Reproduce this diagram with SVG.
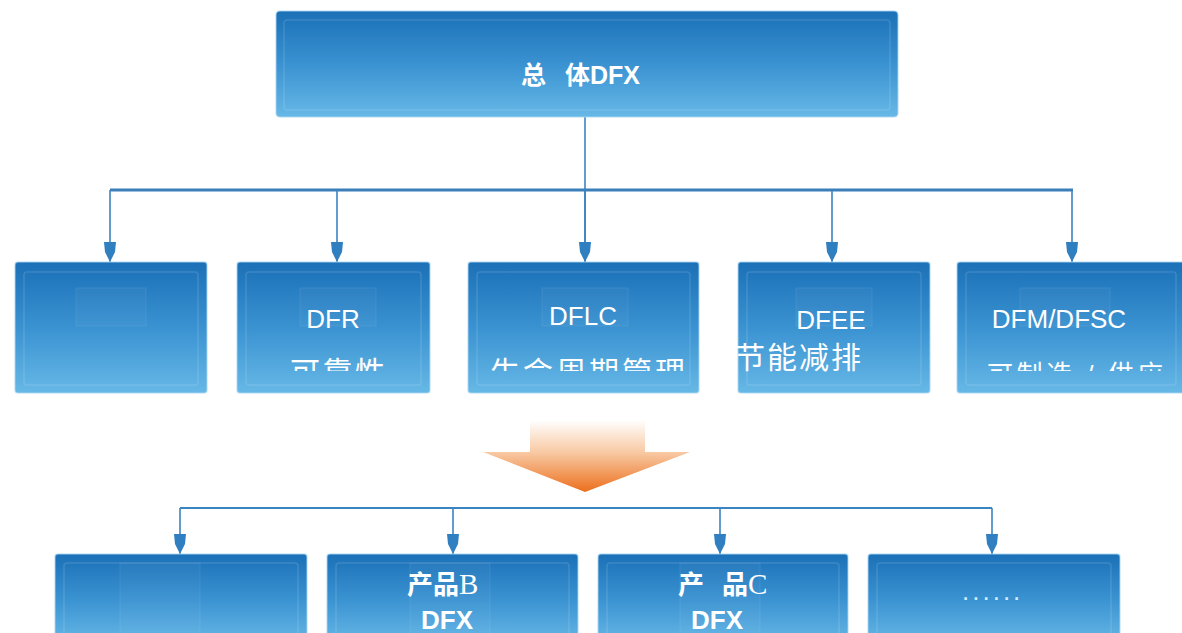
<svg xmlns="http://www.w3.org/2000/svg" width="1182" height="633" viewBox="0 0 1182 633">
<style>
.box{fill:url(#bg);stroke:#a9d6f2;stroke-width:1.5;stroke-opacity:0.6}
.inner{fill:none;stroke:#ffffff;stroke-opacity:0.12;stroke-width:1.5}
.tab{fill:#ffffff;fill-opacity:0.03;stroke:#ffffff;stroke-opacity:0.08}
.lat{font-family:"Liberation Sans",Arial,sans-serif;fill:#ffffff;font-size:26px}
.cjk{font-family:"Liberation Sans","Noto Sans CJK SC",sans-serif;fill:#ffffff}
.bold{font-weight:bold}
.ser{font-family:"Liberation Serif","Noto Sans CJK SC",serif}
.conn{fill:none;stroke:#3a84c2;stroke-width:1.6}
.bar{fill:none;stroke:#3a7fb9;stroke-width:3}
</style>
<defs>
<linearGradient id="bg" x1="0" y1="0" x2="0" y2="1">
<stop offset="0" stop-color="#1b70b7"/>
<stop offset="0.5" stop-color="#3a92d1"/>
<stop offset="1" stop-color="#66b8e6"/>
</linearGradient>
<linearGradient id="og" x1="0" y1="0" x2="0" y2="1">
<stop offset="0" stop-color="#ffffff"/>
<stop offset="0.45" stop-color="#f8c9a3"/>
<stop offset="1" stop-color="#ec6f1d"/>
</linearGradient>
<marker id="ah" viewBox="0 0 20 12" refX="20" refY="6" markerWidth="20" markerHeight="12" markerUnits="userSpaceOnUse" orient="auto">
<path d="M0,0 L10,1 L20,6 L10,11 L0,12 Z" fill="#2f7fc1"/>
</marker>
<clipPath id="cl"><rect x="0" y="0" width="1182" height="371"/></clipPath>
</defs>
<rect width="1182" height="633" fill="#ffffff"/>

<g id="connectors">
<path class="conn" d="M585,117 V262"/>
<path class="bar" d="M110,190 H1073"/>
<path class="conn" d="M110,190 V262" marker-end="url(#ah)"/>
<path class="conn" d="M337,190 V262" marker-end="url(#ah)"/>
<path class="conn" d="M585,190 V262" marker-end="url(#ah)"/>
<path class="conn" d="M832,190 V262" marker-end="url(#ah)"/>
<path class="conn" d="M1072,190 V262" marker-end="url(#ah)"/>
<path class="conn" style="stroke-width:2.2" d="M180,508 H992"/>
<path class="conn" d="M180,508 V554" marker-end="url(#ah)"/>
<path class="conn" d="M453,508 V554" marker-end="url(#ah)"/>
<path class="conn" d="M720,508 V554" marker-end="url(#ah)"/>
<path class="conn" d="M992,508 V554" marker-end="url(#ah)"/>
</g>

<g id="orange-arrow">
<path d="M530,420 H645 V452 H690 L585,492 L483,452 H530 Z" fill="url(#og)"/>
</g>

<g id="n-top">
<rect class="box" x="276" y="11" width="622" height="106" rx="4"/>
<rect class="inner" x="284" y="20" width="606" height="90" rx="3"/>
<text class="cjk bold" font-size="25" x="521" y="84">总<tspan x="565">体DFX</tspan></text>
</g>

<g id="n-1">
<rect class="box" x="15" y="262" width="192" height="131" rx="3"/>
<rect class="inner" x="24" y="272" width="174" height="113" rx="3"/>
<rect class="tab" x="76" y="288" width="70" height="38"/>
</g>

<g id="n-dfr">
<rect class="box" x="237" y="262" width="193" height="131" rx="3"/>
<rect class="inner" x="246" y="272" width="175" height="113" rx="3"/>
<rect class="tab" x="300" y="288" width="76" height="38"/>
<text class="lat" x="333" y="328" text-anchor="middle">DFR</text>
<text class="cjk" font-size="30" letter-spacing="2.5" x="290" y="383" clip-path="url(#cl)">可靠性</text>
</g>

<g id="n-dflc">
<rect class="box" x="468" y="262" width="231" height="131" rx="3"/>
<rect class="inner" x="477" y="272" width="213" height="113" rx="3"/>
<rect class="tab" x="542" y="288" width="86" height="38"/>
<text class="lat" x="583" y="325" text-anchor="middle">DFLC</text>
<text class="cjk" font-size="30" letter-spacing="3" x="490" y="383" clip-path="url(#cl)">生命周期管理</text>
</g>

<g id="n-dfee">
<rect class="box" x="738" y="262" width="192" height="131" rx="3"/>
<rect class="inner" x="747" y="272" width="174" height="113" rx="3"/>
<rect class="tab" x="796" y="288" width="76" height="38"/>
<text class="lat" x="831" y="329" text-anchor="middle">DFEE</text>
<text class="cjk" font-size="30" letter-spacing="2" x="735" y="368">节能减排</text>
</g>

<g id="n-dfm">
<rect class="box" x="957" y="262" width="235" height="131" rx="3"/>
<rect class="inner" x="966" y="272" width="210" height="113" rx="3"/>
<rect class="tab" x="1020" y="288" width="90" height="38"/>
<text class="lat" x="1059" y="328" text-anchor="middle">DFM/DFSC</text>
<text class="cjk" font-size="26" letter-spacing="3.5" x="987" y="384" clip-path="url(#cl)">可制造 / 供应</text>
</g>

<g id="n-a">
<rect class="box" x="55" y="554" width="252" height="90" rx="3"/>
<rect class="inner" x="64" y="563" width="234" height="80" rx="3"/>
<rect class="tab" x="120" y="563" width="80" height="80"/>
</g>

<g id="n-b">
<rect class="box" x="327" y="554" width="251" height="90" rx="3"/>
<rect class="inner" x="336" y="563" width="233" height="80" rx="3"/>
<rect class="tab" x="410" y="563" width="80" height="80"/>
<text class="cjk bold" font-size="26" x="407" y="594">产品<tspan class="ser" style="font-weight:normal" font-size="29">B</tspan></text>
<text class="lat bold" font-size="25" x="447" y="629" text-anchor="middle">DFX</text>
</g>

<g id="n-c">
<rect class="box" x="598" y="554" width="250" height="90" rx="3"/>
<rect class="inner" x="607" y="563" width="232" height="80" rx="3"/>
<rect class="tab" x="680" y="563" width="80" height="80"/>
<text class="cjk bold" font-size="26" x="678" y="594">产<tspan x="722">品</tspan><tspan class="ser" style="font-weight:normal" font-size="29">C</tspan></text>
<text class="lat bold" font-size="25" x="717" y="629" text-anchor="middle">DFX</text>
</g>

<g id="n-more">
<rect class="box" x="868" y="554" width="252" height="90" rx="3"/>
<rect class="inner" x="877" y="563" width="234" height="80" rx="3"/>
<text class="lat" font-size="16" style="fill:#d3ecfb" letter-spacing="3" x="962" y="600">......</text>
</g>
</svg>
